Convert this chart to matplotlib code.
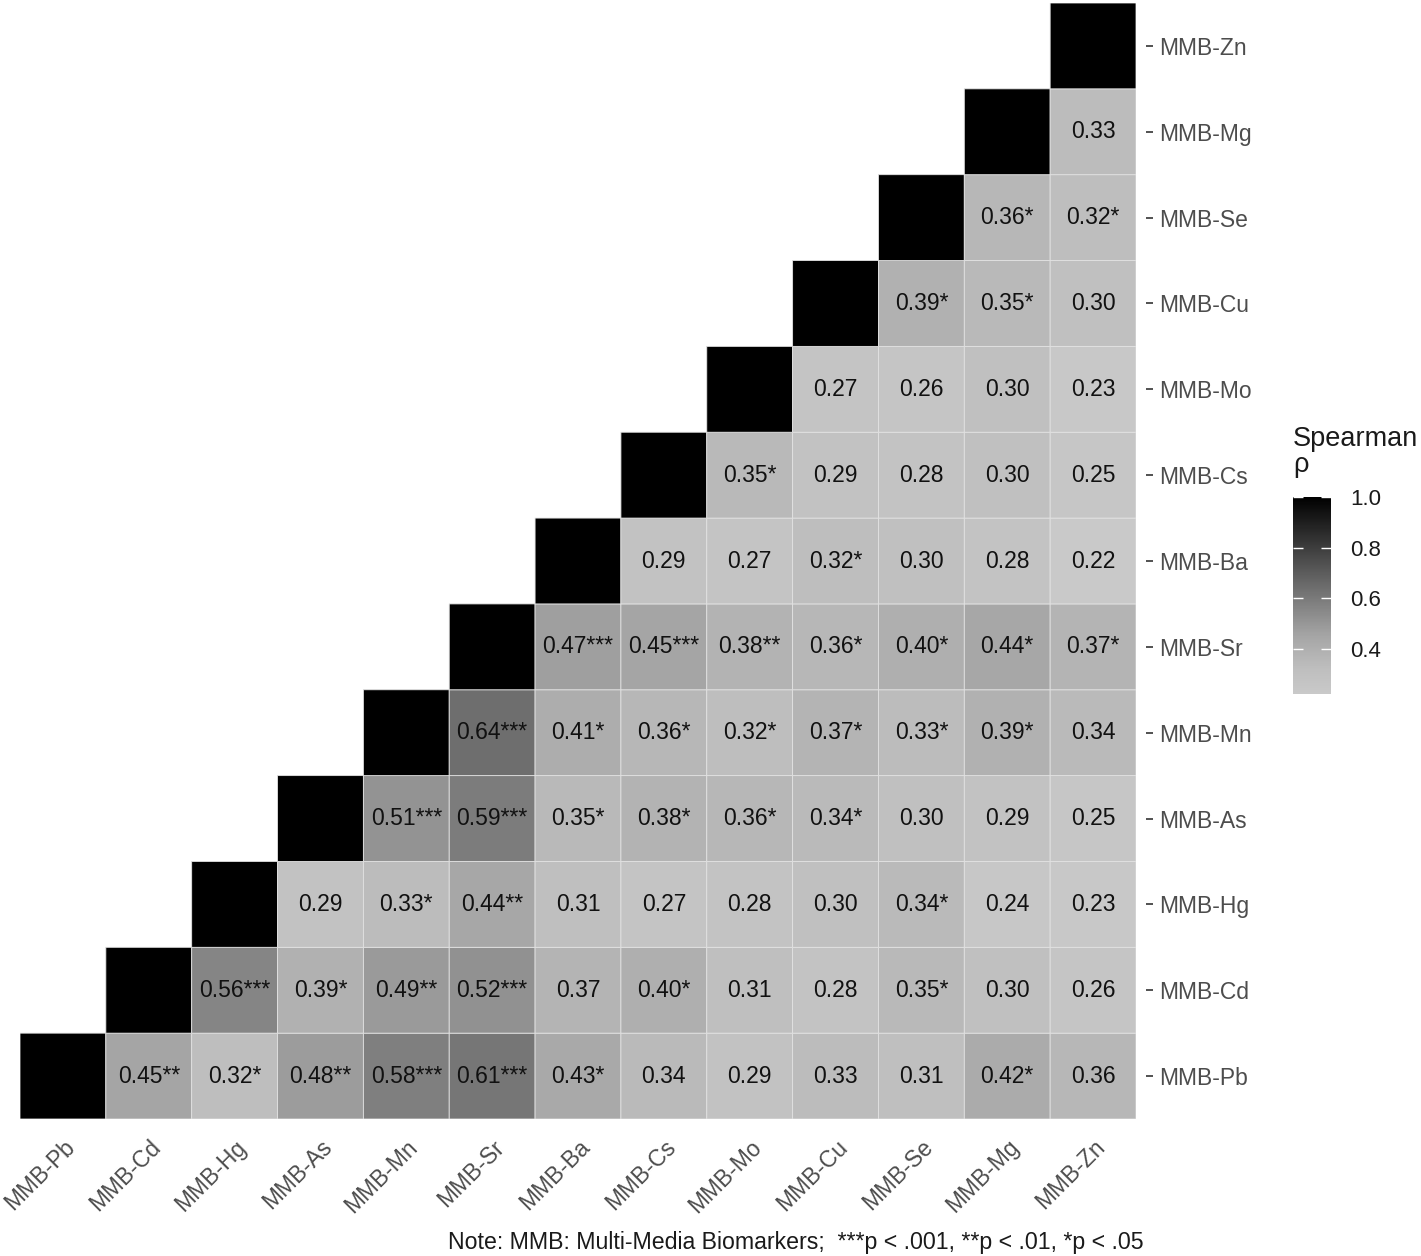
import numpy as np
import matplotlib
matplotlib.use("Agg")
import matplotlib.pyplot as plt
from matplotlib.colors import LinearSegmentedColormap, Normalize

plt.rcParams['font.family'] = ['Liberation Sans', 'DejaVu Sans']

labels = ['MMB-Pb', 'MMB-Cd', 'MMB-Hg', 'MMB-As', 'MMB-Mn', 'MMB-Sr', 'MMB-Ba',
          'MMB-Cs', 'MMB-Mo', 'MMB-Cu', 'MMB-Se', 'MMB-Mg', 'MMB-Zn']

# upper triangle, row i holds rho with columns i+1 .. end
rho_rows = [
    [0.45, 0.32, 0.48, 0.58, 0.61, 0.43, 0.34, 0.29, 0.33, 0.31, 0.42, 0.36],
    [0.56, 0.39, 0.49, 0.52, 0.37, 0.40, 0.31, 0.28, 0.35, 0.30, 0.26],
    [0.29, 0.33, 0.44, 0.31, 0.27, 0.28, 0.30, 0.34, 0.24, 0.23],
    [0.51, 0.59, 0.35, 0.38, 0.36, 0.34, 0.30, 0.29, 0.25],
    [0.64, 0.41, 0.36, 0.32, 0.37, 0.33, 0.39, 0.34],
    [0.47, 0.45, 0.38, 0.36, 0.40, 0.44, 0.37],
    [0.29, 0.27, 0.32, 0.30, 0.28, 0.22],
    [0.35, 0.29, 0.28, 0.30, 0.25],
    [0.27, 0.26, 0.30, 0.23],
    [0.39, 0.35, 0.30],
    [0.36, 0.32],
    [0.33],
    [],
]
star_rows = [
    ['**', '*', '**', '***', '***', '*', '', '', '', '', '*', ''],
    ['***', '*', '**', '***', '', '*', '', '', '*', '', ''],
    ['', '*', '**', '', '', '', '', '*', '', ''],
    ['***', '***', '*', '*', '*', '*', '', '', ''],
    ['***', '*', '*', '*', '*', '*', '*', ''],
    ['***', '***', '**', '*', '*', '*', '*'],
    ['', '', '*', '', '', ''],
    ['*', '', '', '', ''],
    ['', '', '', ''],
    ['*', '*', ''],
    ['*', '*'],
    [''],
    [],
]

n = len(labels)
mat = np.full((n, n), np.nan)
for i in range(n):
    mat[i, i] = 1.0
    for k, v in enumerate(rho_rows[i]):
        mat[i, i + 1 + k] = v

vmin, vmax = 0.22, 1.0
anchors = [(0.22, 201), (0.32, 190), (0.45, 165), (0.64, 110), (1.0, 0)]
cmap = LinearSegmentedColormap.from_list(
    'greys', [((v - vmin) / (vmax - vmin), (g / 255, g / 255, g / 255)) for v, g in anchors])
norm = Normalize(vmin, vmax)

W, H = 1421, 1256
fig = plt.figure(figsize=(W / 100, H / 100), dpi=100)
ax = fig.add_axes([20 / W, 1 - 1119 / H, 1116 / W, 1116 / H])

# pcolor skips masked cells, so no grid lines in the empty lower triangle
m = ax.pcolor(np.arange(n + 1) - 0.5, np.arange(n + 1) - 0.5, np.ma.masked_invalid(mat),
              cmap=cmap, norm=norm, edgecolors='#e2e2e2', linewidth=0.6)

for i in range(n):
    for k, v in enumerate(rho_rows[i]):
        ax.text(i + 1 + k, i, f"{v:.2f}{star_rows[i][k]}", ha='center', va='center',
                fontsize=16.5, color='#111111')

ax.set_xlim(-0.5, n - 0.5)
ax.set_ylim(-0.5, n - 0.5)
for s in ax.spines.values():
    s.set_visible(False)
ax.spines['right'].set_position(('outward', 7))

ax.set_yticks(range(n))
ax.set_yticklabels(labels)
ax.yaxis.tick_right()
ax.tick_params(axis='y', length=5, width=1.2, color='#333333', pad=5,
               labelsize=16.5, labelcolor='#4d4d4d')

ax.set_xticks(range(n))
ax.set_xticklabels(labels, rotation=45, ha='right', va='top', rotation_mode='anchor')
ax.tick_params(axis='x', length=0, pad=12, labelsize=16.5, labelcolor='#4d4d4d')

# colorbar
cax = fig.add_axes([1293 / W, 1 - 694 / H, 38 / W, 197 / H])
cb = fig.colorbar(m, cax=cax, ticks=[0.4, 0.6, 0.8, 1.0])
cb.ax.set_yticklabels(['0.4', '0.6', '0.8', '1.0'])
cb.outline.set_visible(False)
cax.tick_params(axis='y', direction='in', length=7, width=1, color='white',
                left=True, right=True, labelsize=16, pad=14, labelcolor='#1a1a1a')
fig.text(1293 / W, 1 - 426 / H, 'Spearman\nρ', ha='left', va='top', fontsize=19.5,
         linespacing=1.0, color='#1a1a1a')

fig.text(1144 / W, 1 - 1242 / H,
         'Note: MMB: Multi-Media Biomarkers;  ***p < .001, **p < .01, *p < .05',
         ha='right', va='center', fontsize=16.7, color='#1a1a1a')

fig.savefig('out.png', dpi=100, facecolor='white')
